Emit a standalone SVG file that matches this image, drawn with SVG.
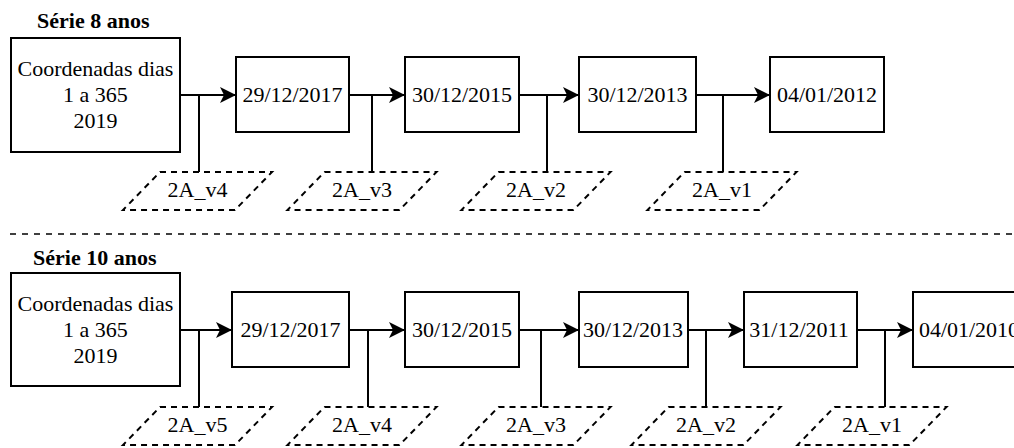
<svg xmlns="http://www.w3.org/2000/svg" width="1014" height="448" viewBox="0 0 1014 448">
<style>
.box{fill:#fff;stroke:#000;stroke-width:2}
.para{fill:#fff;stroke:#000;stroke-width:2;stroke-dasharray:6 5}
.t{font-family:'Liberation Serif','DejaVu Serif','Times New Roman',Times,serif;font-size:22px;fill:#000;text-anchor:middle}
.title{font-family:'Liberation Serif','DejaVu Serif','Times New Roman',Times,serif;font-size:22px;font-weight:bold;fill:#000}
.edge{fill:none;stroke:#000;stroke-width:2}
.sep{fill:none;stroke:#000;stroke-width:1.6;stroke-dasharray:6 6}
</style>
<defs>
<marker id="arr" markerUnits="userSpaceOnUse" viewBox="0 0 16 16" refX="16" refY="8" markerWidth="16" markerHeight="16" orient="auto">
<path d="M0,0 L16,8 L0,16 L4,8 Z" fill="#000"/>
</marker>
</defs>

<text class="title" font-family="Liberation Serif, serif" x="37" y="28">Série 8 anos</text>
<text class="title" font-family="Liberation Serif, serif" x="33" y="265">Série 10 anos</text>
<line class="sep" x1="10" y1="234" x2="1012" y2="234"/>

<g id="connectors">
<line class="edge" x1="180" y1="95" x2="236" y2="95" marker-end="url(#arr)"/>
<line class="edge" x1="349" y1="95" x2="405" y2="95" marker-end="url(#arr)"/>
<line class="edge" x1="519" y1="95" x2="579" y2="95" marker-end="url(#arr)"/>
<line class="edge" x1="696" y1="95" x2="770" y2="95" marker-end="url(#arr)"/>
<line class="edge" x1="199" y1="95" x2="199" y2="172"/>
<line class="edge" x1="372" y1="95" x2="372" y2="172"/>
<line class="edge" x1="547" y1="95" x2="547" y2="172"/>
<line class="edge" x1="723" y1="95" x2="723" y2="172"/>

<line class="edge" x1="180" y1="330" x2="232" y2="330" marker-end="url(#arr)"/>
<line class="edge" x1="349" y1="330" x2="405" y2="330" marker-end="url(#arr)"/>
<line class="edge" x1="519" y1="330" x2="579" y2="330" marker-end="url(#arr)"/>
<line class="edge" x1="688" y1="330" x2="744" y2="330" marker-end="url(#arr)"/>
<line class="edge" x1="857" y1="330" x2="913" y2="330" marker-end="url(#arr)"/>
<line class="edge" x1="199" y1="330" x2="199" y2="407"/>
<line class="edge" x1="368" y1="330" x2="368" y2="407"/>
<line class="edge" x1="541" y1="330" x2="541" y2="407"/>
<line class="edge" x1="706" y1="330" x2="706" y2="407"/>
<line class="edge" x1="885" y1="330" x2="885" y2="407"/>
</g>

<g id="t-start"><rect class="box" x="11" y="38" width="169" height="114"/>
<text class="t" x="95.5" y="76">Coordenadas dias</text><text class="t" x="95.5" y="102">1 a 365</text><text class="t" x="95.5" y="128">2019</text></g>
<g id="t-2017"><rect class="box" x="236" y="57" width="113" height="75"/><text class="t" x="292.5" y="102">29/12/2017</text></g>
<g id="t-2015"><rect class="box" x="405" y="57" width="114" height="75"/><text class="t" x="462" y="102">30/12/2015</text></g>
<g id="t-2013"><rect class="box" x="579" y="57" width="117" height="75"/><text class="t" x="637.5" y="102">30/12/2013</text></g>
<g id="t-2012"><rect class="box" x="770" y="57" width="114" height="75"/><text class="t" x="827" y="102">04/01/2012</text></g>

<g id="t-v4"><polygon class="para" points="160,172 272,172 235,210 123,210"/><text class="t" x="197.5" y="197">2A_v4</text></g>
<g id="t-v3"><polygon class="para" points="324.5,172 436.5,172 399.5,210 287.5,210"/><text class="t" x="362" y="197">2A_v3</text></g>
<g id="t-v2"><polygon class="para" points="498.5,172 610.5,172 573.5,210 461.5,210"/><text class="t" x="536" y="197">2A_v2</text></g>
<g id="t-v1"><polygon class="para" points="684.5,172 796.5,172 759.5,210 647.5,210"/><text class="t" x="722" y="197">2A_v1</text></g>

<g id="b-start"><rect class="box" x="11" y="273" width="169" height="113"/>
<text class="t" x="95.5" y="311">Coordenadas dias</text><text class="t" x="95.5" y="337">1 a 365</text><text class="t" x="95.5" y="363">2019</text></g>
<g id="b-2017"><rect class="box" x="232" y="292" width="117" height="75"/><text class="t" x="290.5" y="337">29/12/2017</text></g>
<g id="b-2015"><rect class="box" x="405" y="292" width="114" height="75"/><text class="t" x="462" y="337">30/12/2015</text></g>
<g id="b-2013"><rect class="box" x="579" y="292" width="109" height="75"/><text class="t" x="633" y="337">30/12/2013</text></g>
<g id="b-2011"><rect class="box" x="744" y="292" width="113" height="75"/><text class="t" x="799" y="337">31/12/2011</text></g>
<g id="b-2010"><rect class="box" x="913" y="292" width="114" height="75"/><text class="t" x="969" y="337">04/01/2010</text></g>

<g id="b-v5"><polygon class="para" points="160,407 272,407 235,445 123,445"/><text class="t" x="197.5" y="432">2A_v5</text></g>
<g id="b-v4"><polygon class="para" points="324.5,407 436.5,407 399.5,445 287.5,445"/><text class="t" x="362" y="432">2A_v4</text></g>
<g id="b-v3"><polygon class="para" points="498.5,407 610.5,407 573.5,445 461.5,445"/><text class="t" x="536" y="432">2A_v3</text></g>
<g id="b-v2"><polygon class="para" points="668.5,407 780.5,407 743.5,445 631.5,445"/><text class="t" x="706" y="432">2A_v2</text></g>
<g id="b-v1"><polygon class="para" points="834.5,407 946.5,407 909.5,445 797.5,445"/><text class="t" x="872" y="432">2A_v1</text></g>
</svg>
